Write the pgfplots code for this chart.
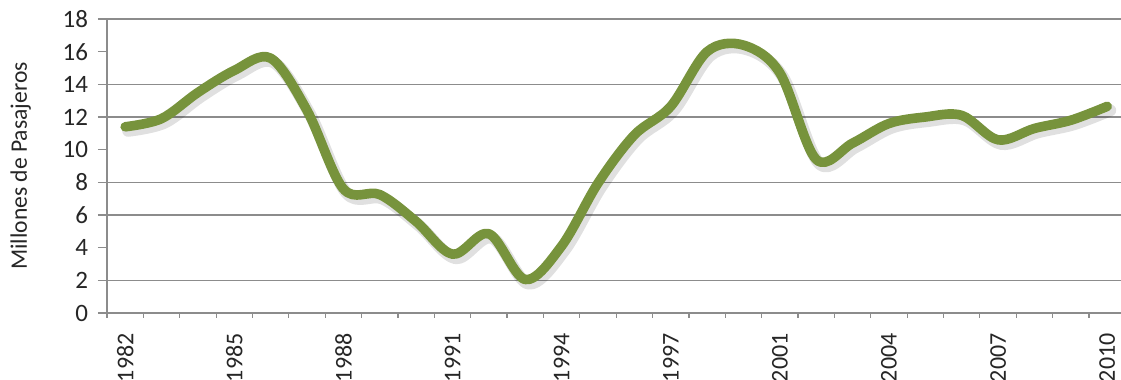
\documentclass[border=0pt]{standalone}
\usepackage{pgfplots}
\pgfplotsset{compat=1.18}
\usepackage{fontspec}
\setmainfont{Carlito}
\definecolor{lineg}{RGB}{119,147,60}
\definecolor{gridg}{RGB}{140,140,140}
\begin{document}
\begin{tikzpicture}
\begin{axis}[
  scale only axis,
  width=507pt, height=147pt,
  xmin=-0.5, xmax=27.38,
  ymin=0, ymax=18,
  axis x line*=bottom, axis y line*=left,
  axis line style={gridg, line width=0.6pt, -},
  ytick={0,2,...,18},
  xtick={0,3,...,27},
  xticklabels={1982,1985,1988,1991,1994,1997,2001,2004,2007,2010},
  minor xtick={-0.5,0.5,...,26.5},
  major x tick style={draw=none},
  minor x tick style={gridg, line width=0.6pt},
  major y tick style={gridg, line width=0.6pt},
  tick align=outside,
  major tick length=4.5pt,
  minor tick length=2.5pt,
  extra y ticks={2,6,8,12,14,18},
  extra y tick labels={},
  extra y tick style={grid=major, major tick length=0pt},
  major grid style={gridg, line width=0.6pt},
  /pgf/number format/assume math mode=true,
  yticklabel style={font=\fontsize{12.5pt}{13pt}\selectfont, text=black!85, xshift=-1.5pt},
  xticklabel style={font=\fontsize{12pt}{13pt}\selectfont, text=black!85, rotate=90, anchor=east, inner sep=0.5pt, xshift=-5pt},
  ylabel={Millones de Pasajeros},
  ylabel style={at={(axis description cs:-0.085,0.5)}, anchor=center, font=\fontsize{11.8pt}{12pt}\selectfont, text=black!85},
  clip=false,
]
\addplot[black, opacity=0.12, line width=6pt, smooth, tension=0.55, line cap=round, line join=round, xshift=1.5pt, yshift=-2pt] coordinates {
(0,11.4)(1,11.9)(2,13.5)(3,14.85)(4,15.6)(5,12.4)(6,7.6)(7,7.25)(8,5.6)(9,3.6)
(10,4.85)(11,2.05)(12,4.1)(13,7.95)(14,10.9)(15,12.65)(16,16.0)(17,16.4)(18,14.7)(19,9.4)
(20,10.4)(21,11.6)(22,12.0)(23,12.1)(24,10.6)(25,11.3)(26,11.8)(27,12.65)};
\addplot[lineg, line width=4.8pt, smooth, tension=0.55, line cap=round, line join=round] coordinates {
(0,11.4)(1,11.9)(2,13.5)(3,14.85)(4,15.6)(5,12.4)(6,7.6)(7,7.25)(8,5.6)(9,3.6)
(10,4.85)(11,2.05)(12,4.1)(13,7.95)(14,10.9)(15,12.65)(16,16.0)(17,16.4)(18,14.7)(19,9.4)
(20,10.4)(21,11.6)(22,12.0)(23,12.1)(24,10.6)(25,11.3)(26,11.8)(27,12.65)};
\end{axis}
\pgfresetboundingbox
\path[use as bounding box] (current axis.south west) ++(-53.5pt,-33.5pt) rectangle ([shift={(507pt,156.5pt)}]current axis.south west);
\end{tikzpicture}
\end{document}
